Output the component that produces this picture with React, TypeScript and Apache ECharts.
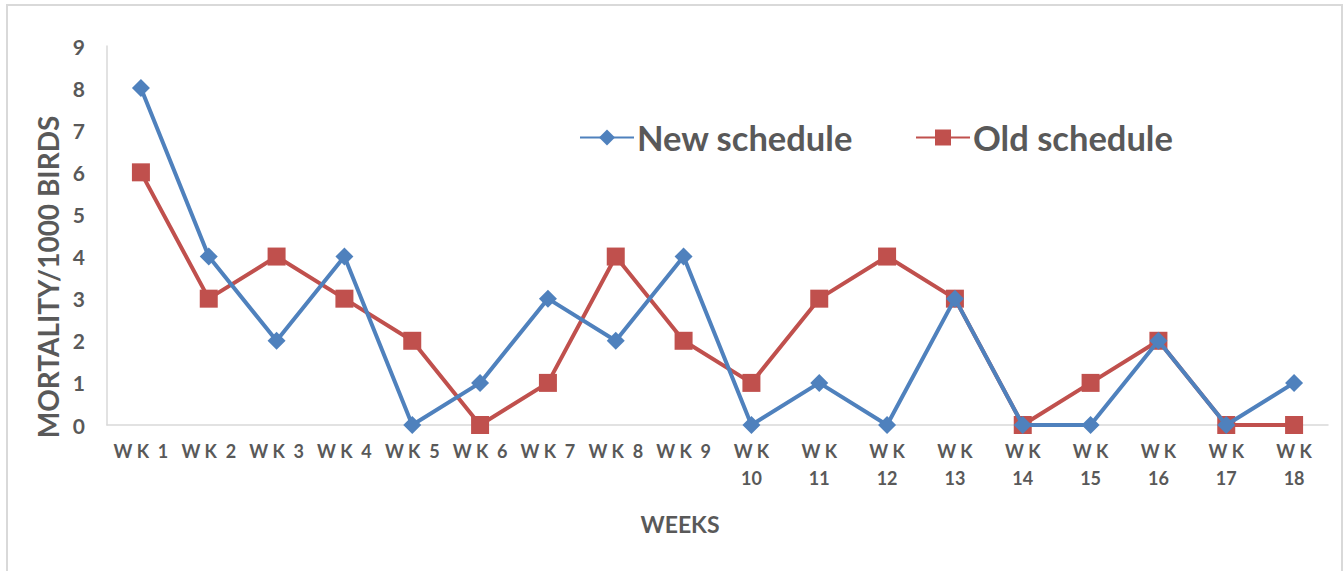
import React, { useEffect, useRef } from "react";
import * as echarts from "echarts";

const weeks = ["WK 1","WK 2","WK 3","WK 4","WK 5","WK 6","WK 7","WK 8","WK 9","WK 10","WK 11","WK 12","WK 13","WK 14","WK 15","WK 16","WK 17","WK 18"];
const newSchedule = [8, 4, 2, 4, 0, 1, 3, 2, 4, 0, 1, 0, 3, 0, 0, 2, 0, 1];
const oldSchedule = [6, 3, 4, 3, 2, 0, 1, 4, 2, 1, 3, 4, 3, 0, 1, 2, 0, 0];
const yTicks = [0, 1, 2, 3, 4, 5, 6, 7, 8, 9];
const yTitle = "MORTALITY/1000 BIRDS";
const xTitle = "WEEKS";

const FONT = "Lato";
const TXT = "#595959";

export default function App() {
  const ref = useRef<HTMLDivElement>(null);
  useEffect(() => {
    const chart = echarts.init(ref.current!, null, { renderer: "svg" });
    chart.setOption({
      animation: false,
      backgroundColor: "#fff",
      textStyle: { fontFamily: FONT },
      graphic: [
        {
          type: "rect",
          shape: { x: 7, y: 5, width: 1335, height: 620 },
          style: { fill: "none", stroke: "#d9d9d9", lineWidth: 2 },
          silent: true,
        },
        {
          type: "text",
          x: 48,
          y: 277,
          rotation: Math.PI / 2,
          style: {
            text: yTitle,
            fontFamily: FONT,
            fontWeight: "bold",
            fontSize: 28,
            fill: TXT,
            align: "center",
            verticalAlign: "middle",
          },
        },
        {
          type: "text",
          x: 680,
          y: 524,
          style: {
            text: xTitle,
            fontFamily: FONT,
            fontWeight: "bold",
            fontSize: 23,
            fill: TXT,
            align: "center",
            verticalAlign: "middle",
          },
        },
      ],
      legend: {
        top: 115,
        left: 574,
        itemWidth: 54,
        itemHeight: 20,
        itemGap: 62,
        textStyle: { fontFamily: FONT, fontWeight: "bold", fontSize: 34.5, color: TXT, padding: [0, 0, 0, -2] },
        data: ["New schedule", "Old schedule"],
      },
      grid: { left: 107, right: 16, top: 46, bottom: 146, containLabel: false },
      xAxis: {
        type: "category",
        data: weeks,
        boundaryGap: true,
        axisLine: { lineStyle: { color: "#d9d9d9", width: 1.5 } },
        axisTick: { show: false },
        axisLabel: {
          interval: 0,
          margin: 12,
          color: TXT,
          fontFamily: FONT,
          fontWeight: "bold",
          fontSize: 18,
          lineHeight: 27,
          formatter: (v: string) => {
            const n = parseInt(v.replace("WK ", ""), 10);
            return n >= 10 ? "W K\n" + n : "W K  " + n;
          },
        },
      },
      yAxis: {
        type: "value",
        min: 0,
        max: 9,
        interval: 1,
        axisLine: { show: true, lineStyle: { color: "#d9d9d9", width: 1.5 } },
        axisTick: { show: false },
        splitLine: { show: false },
        axisLabel: {
          margin: 22,
          color: TXT,
          fontFamily: FONT,
          fontWeight: "bold",
          fontSize: 21,
          formatter: (v: number) => (yTicks.includes(v) ? String(v) : ""),
        },
      },
      series: [
        {
          name: "New schedule",
          type: "line",
          data: newSchedule,
          symbol: "diamond",
          symbolSize: 18,
          lineStyle: { color: "#4f81bd", width: 4 },
          itemStyle: { color: "#4f81bd" },
          z: 3,
        },
        {
          name: "Old schedule",
          type: "line",
          data: oldSchedule,
          symbol: "rect",
          symbolSize: 18,
          lineStyle: { color: "#c0504d", width: 4 },
          itemStyle: { color: "#c0504d" },
          z: 2,
        },
      ],
    });
    return () => chart.dispose();
  }, []);
  return (
    <div
      ref={ref}
      style={{ position: "absolute", left: 0, top: 0, width: 1344, height: 571 }}
    />
  );
}
